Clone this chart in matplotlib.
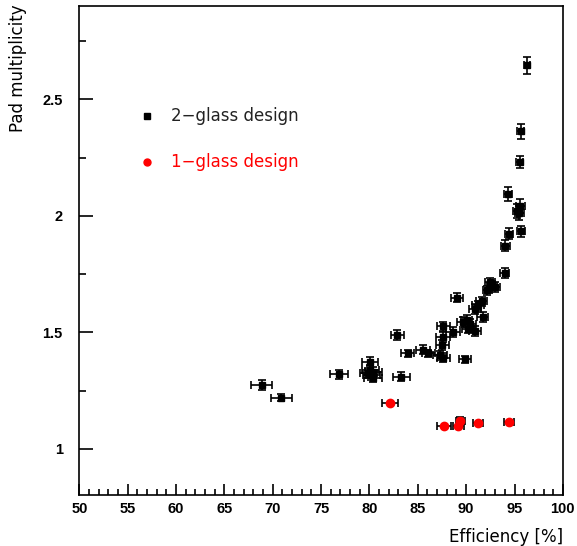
import numpy as np
import matplotlib
matplotlib.use('Agg')
import matplotlib.pyplot as plt
from matplotlib.ticker import MultipleLocator

# 2-glass design
eff2 = [96.3, 95.65, 95.55, 94.35, 95.3, 95.6, 95.5, 95.7, 94.45, 94.05, 94.0,
        92.45, 92.95, 92.2, 92.7, 89.05, 91.6, 91.25, 90.9, 91.7, 90.05, 89.7,
        90.4, 87.65, 90.2, 90.9, 88.65, 87.6, 87.55, 85.55, 83.95, 86.1, 87.3,
        87.65, 89.85, 82.9, 83.3, 80.05, 80.2, 79.9, 80.35, 80.1, 80.4, 76.85,
        70.9, 68.85]
mult2 = [2.645, 2.362, 2.231, 2.095, 2.02, 2.04, 2.01, 1.933, 1.924, 1.872, 1.755,
         1.715, 1.694, 1.68, 1.70, 1.648, 1.633, 1.616, 1.60, 1.566, 1.555, 1.545,
         1.537, 1.526, 1.516, 1.506, 1.502, 1.48, 1.445, 1.425, 1.41, 1.41, 1.402,
         1.392, 1.384, 1.488, 1.31, 1.374, 1.317, 1.325, 1.305, 1.34, 1.33, 1.32,
         1.22, 1.274]
eff2_err = [0.3, 0.35, 0.35, 0.4, 0.45, 0.45, 0.45, 0.4, 0.4, 0.45, 0.45,
            0.5, 0.5, 0.5, 0.5, 0.6, 0.6, 0.6, 0.6, 0.6, 0.6, 0.6,
            0.6, 0.7, 0.6, 0.6, 0.7, 0.7, 0.7, 0.7, 0.7, 0.7, 0.7,
            0.7, 0.6, 0.7, 0.9, 0.8, 0.9, 0.9, 0.9, 0.9, 0.9, 0.95,
            1.1, 1.1]
mult2_err = [0.035, 0.033, 0.025, 0.03, 0.03, 0.03, 0.03, 0.025, 0.025, 0.025, 0.02,
             0.02, 0.02, 0.02, 0.02, 0.02, 0.02, 0.02, 0.02, 0.02, 0.02, 0.02,
             0.02, 0.02, 0.02, 0.02, 0.02, 0.02, 0.02, 0.02, 0.015, 0.015, 0.02,
             0.02, 0.015, 0.02, 0.02, 0.02, 0.02, 0.02, 0.02, 0.02, 0.02, 0.02,
             0.015, 0.02]

# 1-glass design
eff1 = [82.1, 87.7, 89.2, 89.4, 91.25, 94.4]
mult1 = [1.196, 1.099, 1.10, 1.121, 1.111, 1.114]
eff1_err = [0.85, 0.75, 0.55, 0.5, 0.5, 0.5]
mult1_err = [0.0, 0.0, 0.0, 0.015, 0.0, 0.0]

fig = plt.figure(figsize=(5.77, 5.46), dpi=100)
ax = fig.add_axes([0.1375, 0.0925, 0.838, 0.8965])

ax.errorbar(eff2, mult2, xerr=eff2_err, yerr=mult2_err, fmt='s', color='black',
            ms=5, elinewidth=1.2, capsize=3, capthick=1.2)
ax.errorbar(eff1, mult1, xerr=eff1_err, yerr=mult1_err, fmt='o', color='red',
            ms=6, ecolor='black', elinewidth=1.2, capsize=3, capthick=1.2)

ax.set_xlim(50, 100)
ax.set_ylim(0.8, 2.9)
ax.xaxis.set_major_locator(MultipleLocator(5))
ax.xaxis.set_minor_locator(MultipleLocator(1))
ax.yaxis.set_major_locator(MultipleLocator(0.5))
ax.yaxis.set_minor_locator(MultipleLocator(0.25))
ax.tick_params(which='both', direction='in', top=False, right=False, width=1.2)
ax.tick_params(which='major', axis='y', length=10, pad=12)
ax.tick_params(which='minor', axis='y', length=5)
ax.tick_params(which='major', axis='x', length=8, pad=5)
ax.tick_params(which='minor', axis='x', length=4)
ax.set_yticks([1, 1.5, 2, 2.5])
ax.set_yticklabels(['1', '1.5', '2', '2.5'])
for lab in ax.get_xticklabels() + ax.get_yticklabels():
    lab.set_fontfamily('Liberation Sans')
    lab.set_fontweight('bold')
    lab.set_fontsize(10.5)
for s in ax.spines.values():
    s.set_linewidth(1.2)

ax.set_xlabel('Efficiency [%]', fontsize=12, loc='right', labelpad=8)
fig.text(18 / 577, 1 - 4 / 546, 'Pad multiplicity', rotation=90, fontsize=12,
         ha='center', va='top')

# legend drawn as text like the original
ax.plot([0.14], [0.775], 's', color='black', ms=4, transform=ax.transAxes)
ax.text(0.19, 0.775, '2\u2212glass design', transform=ax.transAxes,
        fontsize=12, va='center', color='#222222')
ax.plot([0.14], [0.681], 'o', color='red', ms=5, transform=ax.transAxes)
ax.text(0.19, 0.681, '1\u2212glass design', transform=ax.transAxes,
        fontsize=12, va='center', color='red')

fig.savefig('out.png', dpi=100)
